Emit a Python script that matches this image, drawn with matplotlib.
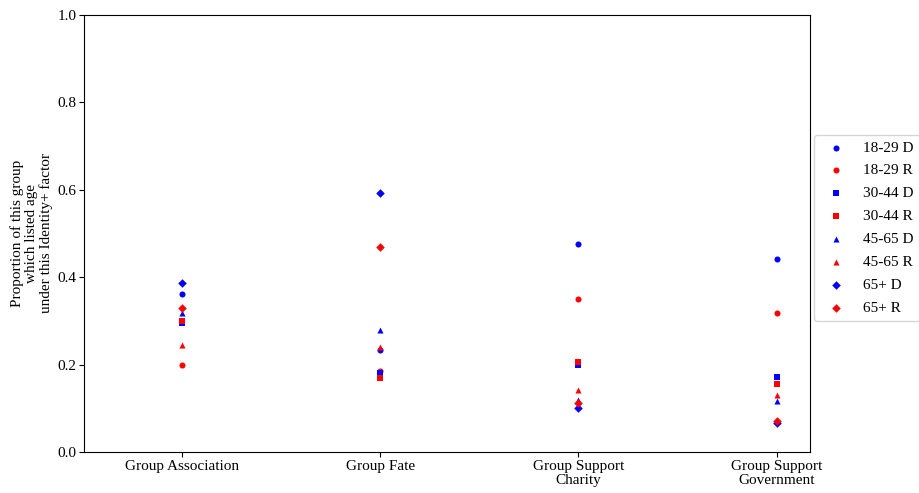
import matplotlib
matplotlib.use("agg")
import matplotlib.pyplot as plt

plt.rcParams['font.family'] = ['Liberation Serif', 'DejaVu Serif']

categories = ["Group Association", "Group Fate", "Group Support\nCharity", "Group Support\nGovernment"]

labels = ["18-29 D", "18-29 R", "30-44 D", "30-44 R", "45-65 D", "45-65 R", "65+ D", "65+ R"]
vals_18_29_D = [0.361, 0.233, 0.477, 0.442]
vals_18_29_R = [0.200, 0.185, 0.350, 0.317]
vals_30_44_D = [0.295, 0.180, 0.198, 0.171]
vals_30_44_R = [0.300, 0.169, 0.206, 0.156]
vals_45_65_D = [0.318, 0.279, 0.119, 0.117]
vals_45_65_R = [0.245, 0.241, 0.142, 0.130]
vals_65_D = [0.387, 0.592, 0.101, 0.067]
vals_65_R = [0.329, 0.470, 0.113, 0.070]

series = [vals_18_29_D, vals_18_29_R, vals_30_44_D, vals_30_44_R,
          vals_45_65_D, vals_45_65_R, vals_65_D, vals_65_R]
markers = ['o', 'o', 's', 's', '^', '^', 'D', 'D']
colors = ['blue', 'red'] * 4

fig = plt.figure(figsize=(9.2, 4.93), dpi=100)
ax = fig.add_axes([0.0913, 0.0832, 0.7887, 0.8864])

x = list(range(len(categories)))
for lab, v, m, c in zip(labels, series, markers, colors):
    ax.scatter(x, v, marker=m, color=c, s=19, label=lab, linewidths=0)

ax.set_xticks(x)
ax.set_xticklabels(categories, fontsize=11)
for t in ax.get_xticklabels():
    t.set_linespacing(1.15)
ax.set_xlim(-0.494, 3.166)
ax.set_ylim(0, 1.0)
ax.tick_params(axis='y', labelsize=11, pad=2)
ax.tick_params(axis='x', pad=2)
ax.set_ylabel("Proportion of this group\nwhich listed age\nunder this Identity+ factor",
              fontsize=11, linespacing=1.1, labelpad=3)
ax.legend(loc='center left', bbox_to_anchor=(1.0, 0.513), borderaxespad=0.3,
          fontsize=11, labelspacing=0.6)

plt.savefig("out.png", dpi=100)
